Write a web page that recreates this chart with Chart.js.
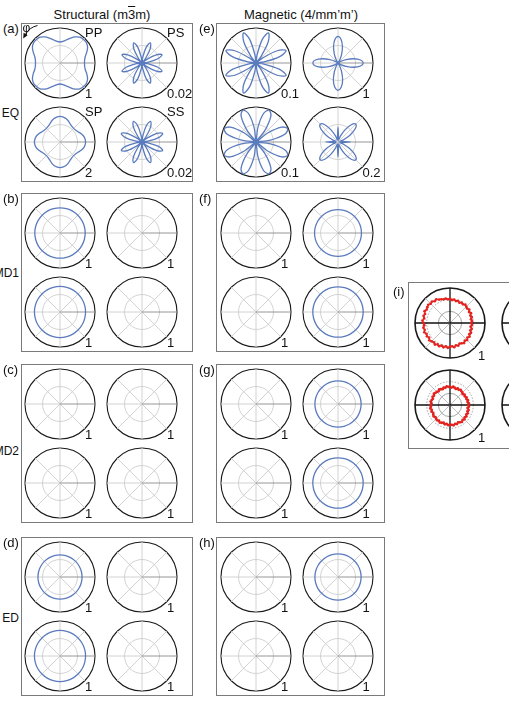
<!DOCTYPE html>
<html>
<head>
<meta charset="utf-8">
<script src="https://cdn.jsdelivr.net/npm/chart.js@4.4.1/dist/chart.umd.min.js"></script>
<style>
  body { margin: 0; background: #fff; }
  #fig { position: relative; width: 509px; height: 702px; overflow: hidden; background: #fff;
         font-family: "Liberation Sans", Arial, sans-serif; color: #111; }
  .box { position: absolute; border: 1.5px solid #7a7a7a; box-sizing: border-box; }
  .t { position: absolute; font-size: 13px; line-height: 13px; white-space: nowrap; }
  canvas { position: absolute; }
</style>
</head>
<body>
<div id="fig"></div>
<script>
// angle categories (screen angle, clockwise from the right-hand axis)
const ANGLES = [0, 7.5, 15, 22.5, 30, 37.5, 45, 52.5, 60, 67.5, 75, 82.5,
                90, 97.5, 105, 112.5, 120, 127.5, 135, 142.5, 150, 157.5, 165, 172.5,
                180, 187.5, 195, 202.5, 210, 217.5, 225, 232.5, 240, 247.5, 255, 262.5,
                270, 277.5, 285, 292.5, 300, 307.5, 315, 322.5, 330, 337.5, 345, 352.5];
const ANGLES24 = [0, 15, 30, 45, 60, 75, 90, 105, 120, 135, 150, 165,
                  180, 195, 210, 225, 240, 255, 270, 285, 300, 315, 330, 345];
const ANGLES_EXP = [0, 5, 10, 15, 20, 25, 30, 35, 40, 45, 50, 55,
                    60, 65, 70, 75, 80, 85, 90, 95, 100, 105, 110, 115,
                    120, 125, 130, 135, 140, 145, 150, 155, 160, 165, 170, 175,
                    180, 185, 190, 195, 200, 205, 210, 215, 220, 225, 230, 235,
                    240, 245, 250, 255, 260, 265, 270, 275, 280, 285, 290, 295,
                    300, 305, 310, 315, 320, 325, 330, 335, 340, 345, 350, 355];

// (a) structural, EQ
const eqStructPP = [0.70, 0.71, 0.75, 0.83, 0.91, 0.95, 0.95, 0.93, 0.86, 0.76, 0.68, 0.62,
                    0.60, 0.62, 0.68, 0.76, 0.86, 0.93, 0.95, 0.95, 0.91, 0.83, 0.75, 0.71,
                    0.70, 0.71, 0.75, 0.83, 0.91, 0.95, 0.95, 0.93, 0.86, 0.76, 0.68, 0.62,
                    0.60, 0.62, 0.68, 0.76, 0.86, 0.93, 0.95, 0.95, 0.91, 0.83, 0.75, 0.71];
const eqStructPS = [0, 0.16, 0.47, 0.62, 0.47, 0.16, 0, 0.16, 0.47, 0.62, 0.47, 0.16,
                    0, 0.16, 0.47, 0.62, 0.47, 0.16, 0, 0.16, 0.47, 0.62, 0.47, 0.16,
                    0, 0.16, 0.47, 0.62, 0.47, 0.16, 0, 0.16, 0.47, 0.62, 0.47, 0.16,
                    0, 0.16, 0.47, 0.62, 0.47, 0.16, 0, 0.16, 0.47, 0.62, 0.47, 0.16];
const eqStructSP = [0.73, 0.72, 0.69, 0.64, 0.59, 0.56, 0.55, 0.56, 0.59, 0.64, 0.69, 0.72,
                    0.73, 0.72, 0.69, 0.64, 0.59, 0.56, 0.55, 0.56, 0.59, 0.64, 0.69, 0.72,
                    0.73, 0.72, 0.69, 0.64, 0.59, 0.56, 0.55, 0.56, 0.59, 0.64, 0.69, 0.72,
                    0.73, 0.72, 0.69, 0.64, 0.59, 0.56, 0.55, 0.56, 0.59, 0.64, 0.69, 0.72];
const eqStructSS = [0, 0.17, 0.49, 0.64, 0.49, 0.17, 0, 0.17, 0.49, 0.64, 0.49, 0.17,
                    0, 0.17, 0.49, 0.64, 0.49, 0.17, 0, 0.17, 0.49, 0.64, 0.49, 0.17,
                    0, 0.17, 0.49, 0.64, 0.49, 0.17, 0, 0.17, 0.49, 0.64, 0.49, 0.17,
                    0, 0.17, 0.49, 0.64, 0.49, 0.17, 0, 0.17, 0.49, 0.64, 0.49, 0.17];

// (e) magnetic, EQ
const eqMagTL = [0, 0.23, 0.70, 0.93, 0.70, 0.23, 0, 0.23, 0.70, 0.93, 0.70, 0.23,
                 0, 0.23, 0.70, 0.93, 0.70, 0.23, 0, 0.23, 0.70, 0.93, 0.70, 0.23,
                 0, 0.23, 0.70, 0.93, 0.70, 0.23, 0, 0.23, 0.70, 0.93, 0.70, 0.23,
                 0, 0.23, 0.70, 0.93, 0.70, 0.23, 0, 0.23, 0.70, 0.93, 0.70, 0.23];
const eqMagTR = [0.72, 0.65, 0.47, 0.25, 0.09, 0.01, 0, 0.02, 0.10, 0.27, 0.51, 0.70,
                 0.78, 0.70, 0.51, 0.27, 0.10, 0.02, 0, 0.01, 0.09, 0.25, 0.47, 0.65,
                 0.72, 0.65, 0.47, 0.25, 0.09, 0.01, 0, 0.02, 0.10, 0.27, 0.49, 0.68,
                 0.76, 0.68, 0.49, 0.27, 0.10, 0.02, 0, 0.01, 0.09, 0.25, 0.47, 0.65];
const eqMagBL = [0, 0.42, 0.85, 0.98, 0.85, 0.42, 0, 0.42, 0.85, 0.98, 0.85, 0.42,
                 0, 0.42, 0.85, 0.98, 0.85, 0.42, 0, 0.42, 0.85, 0.98, 0.85, 0.42,
                 0, 0.42, 0.85, 0.98, 0.85, 0.42, 0, 0.42, 0.85, 0.98, 0.85, 0.42,
                 0, 0.42, 0.85, 0.98, 0.85, 0.42, 0, 0.42, 0.85, 0.98, 0.85, 0.42];
const eqMagBR = [0.35, 0.10, 0.06, 0.18, 0.40, 0.62, 0.72, 0.62, 0.40, 0.18, 0.06, 0.12,
                 0.43, 0.12, 0.06, 0.18, 0.40, 0.62, 0.72, 0.62, 0.40, 0.18, 0.06, 0.10,
                 0.35, 0.10, 0.06, 0.18, 0.40, 0.62, 0.72, 0.62, 0.40, 0.18, 0.06, 0.12,
                 0.43, 0.12, 0.06, 0.18, 0.40, 0.62, 0.72, 0.62, 0.40, 0.18, 0.06, 0.10];

// isotropic rings (MD1, MD2, ED)
const md1StructTL = [0.72, 0.72, 0.72, 0.72, 0.72, 0.72, 0.72, 0.72, 0.72, 0.72, 0.72, 0.72,
                     0.72, 0.72, 0.72, 0.72, 0.72, 0.72, 0.72, 0.72, 0.72, 0.72, 0.72, 0.72];
const md1StructBL = [0.73, 0.73, 0.73, 0.73, 0.73, 0.73, 0.73, 0.73, 0.73, 0.73, 0.73, 0.73,
                     0.73, 0.73, 0.73, 0.73, 0.73, 0.73, 0.73, 0.73, 0.73, 0.73, 0.73, 0.73];
const md1MagTR = [0.67, 0.67, 0.67, 0.67, 0.67, 0.67, 0.67, 0.67, 0.67, 0.67, 0.67, 0.67,
                  0.67, 0.67, 0.67, 0.67, 0.67, 0.67, 0.67, 0.67, 0.67, 0.67, 0.67, 0.67];
const md1MagBR = [0.72, 0.72, 0.72, 0.72, 0.72, 0.72, 0.72, 0.72, 0.72, 0.72, 0.72, 0.72,
                  0.72, 0.72, 0.72, 0.72, 0.72, 0.72, 0.72, 0.72, 0.72, 0.72, 0.72, 0.72];
const md2MagTR = [0.66, 0.66, 0.66, 0.66, 0.66, 0.66, 0.66, 0.66, 0.66, 0.66, 0.66, 0.66,
                  0.66, 0.66, 0.66, 0.66, 0.66, 0.66, 0.66, 0.66, 0.66, 0.66, 0.66, 0.66];
const md2MagBR = [0.72, 0.72, 0.72, 0.72, 0.72, 0.72, 0.72, 0.72, 0.72, 0.72, 0.72, 0.72,
                  0.72, 0.72, 0.72, 0.72, 0.72, 0.72, 0.72, 0.72, 0.72, 0.72, 0.72, 0.72];
const edStructTL = [0.63, 0.63, 0.63, 0.63, 0.63, 0.63, 0.63, 0.63, 0.63, 0.63, 0.63, 0.63,
                    0.63, 0.63, 0.63, 0.63, 0.63, 0.63, 0.63, 0.63, 0.63, 0.63, 0.63, 0.63];
const edStructBL = [0.73, 0.73, 0.73, 0.73, 0.73, 0.73, 0.73, 0.73, 0.73, 0.73, 0.73, 0.73,
                    0.73, 0.73, 0.73, 0.73, 0.73, 0.73, 0.73, 0.73, 0.73, 0.73, 0.73, 0.73];
const edMagTR = [0.66, 0.66, 0.66, 0.66, 0.66, 0.66, 0.66, 0.66, 0.66, 0.66, 0.66, 0.66,
                 0.66, 0.66, 0.66, 0.66, 0.66, 0.66, 0.66, 0.66, 0.66, 0.66, 0.66, 0.66];

// (i) measured
const expTop = [0.61, 0.63, 0.60, 0.64, 0.62, 0.66, 0.64, 0.68, 0.65, 0.69, 0.66, 0.70,
                0.67, 0.65, 0.69, 0.66, 0.70, 0.67, 0.68, 0.71, 0.68, 0.72, 0.69, 0.73,
                0.71, 0.75, 0.72, 0.74, 0.77, 0.73, 0.76, 0.74, 0.78, 0.75, 0.77, 0.74,
                0.76, 0.79, 0.75, 0.78, 0.76, 0.80, 0.77, 0.79, 0.81, 0.78, 0.80, 0.76,
                0.78, 0.74, 0.72, 0.70, 0.71, 0.68, 0.69, 0.66, 0.68, 0.65, 0.67, 0.64,
                0.67, 0.65, 0.68, 0.66, 0.64, 0.67, 0.63, 0.66, 0.62, 0.64, 0.61, 0.63];
const expBottom = [0.52, 0.54, 0.51, 0.55, 0.53, 0.56, 0.54, 0.57, 0.55, 0.58, 0.56, 0.59,
                   0.57, 0.55, 0.58, 0.56, 0.59, 0.57, 0.56, 0.58, 0.55, 0.57, 0.54, 0.56,
                   0.58, 0.55, 0.57, 0.56, 0.54, 0.57, 0.55, 0.53, 0.56, 0.54, 0.57, 0.55,
                   0.55, 0.53, 0.56, 0.54, 0.52, 0.55, 0.53, 0.56, 0.54, 0.53, 0.51, 0.54,
                   0.52, 0.50, 0.53, 0.51, 0.54, 0.52, 0.52, 0.50, 0.53, 0.51, 0.49, 0.52,
                   0.50, 0.53, 0.51, 0.50, 0.48, 0.51, 0.49, 0.52, 0.50, 0.53, 0.51, 0.54];

const BLUE = '#5b7bbf';
const RED = '#e3231f';
const fig = document.getElementById('fig');

function addText(html, x, baseline, align, size) {
    const el = document.createElement('div');
    el.className = 't';
    el.innerHTML = html;
    if (size) { el.style.fontSize = size + 'px'; el.style.lineHeight = size + 'px'; }
    el.style.top = (baseline - (size ? size * 0.85 : 11)) + 'px';
    if (align === 'right') el.style.right = (509 - x) + 'px';
    else if (align === 'center') { el.style.left = x + 'px'; el.style.transform = 'translateX(-50%)'; }
    else el.style.left = x + 'px';
    fig.appendChild(el);
}

function addBox(x, y, w, h) {
    const el = document.createElement('div');
    el.className = 'box';
    el.style.left = x + 'px'; el.style.top = y + 'px';
    el.style.width = w + 'px'; el.style.height = h + 'px';
    fig.appendChild(el);
}

function polar(cx, cy, labels, series, exp) {
    const cv = document.createElement('canvas');
    cv.width = 80; cv.height = 80;
    cv.style.width = '80px'; cv.style.height = '80px';
    fig.appendChild(cv);
    const step = labels.length / 8;
    const datasets = [];
    if (series) {
        datasets.push({
            data: series,
            fill: false,
            backgroundColor: 'transparent',
            borderColor: exp ? RED : BLUE,
            borderWidth: exp ? 1 : 1.3,
            tension: exp ? 0 : 0.35,
            pointRadius: exp ? 1.4 : 0,
            pointBackgroundColor: RED,
            pointBorderWidth: 0
        });
    }
    const rTicks = exp ? [0, 1 / 3, 2 / 3, 1] : [0, 0.5, 1];
    const chart = new Chart(cv, {
        type: 'radar',
        data: { labels: labels, datasets: datasets },
        options: {
            responsive: false,
            animation: false,
            devicePixelRatio: 1,
            events: [],
            layout: { padding: 5 },
            plugins: { legend: { display: false }, tooltip: { enabled: false } },
            scales: {
                r: {
                    min: 0, max: 1,
                    startAngle: 90,
                    afterBuildTicks: function (axis) {
                        axis.ticks = rTicks.map(v => ({ value: v }));
                    },
                    ticks: { display: false },
                    pointLabels: { display: false },
                    grid: {
                        circular: true,
                        color: ctx => ctx.tick.value > 0.99 ? '#1a1a1a' : (exp ? '#9a9a9a' : '#cdcdcd'),
                        lineWidth: ctx => ctx.tick.value > 0.99 ? (exp ? 1.6 : 1.1) : 0.9
                    },
                    border: {
                        dash: ctx => (exp && ctx.tick && ctx.tick.value > 0.5 && ctx.tick.value < 0.99) ? [1.5, 1.5] : []
                    },
                    angleLines: {
                        display: true,
                        color: ctx => {
                            if (exp) return (ctx.index % (2 * step) === 0) ? '#111' : '#bcbcbc';
                            return ctx.index === 0 ? '#8a8a8a' : '#cdcdcd';
                        },
                        lineWidth: ctx => ctx.index % step === 0 ? (exp && ctx.index % (2 * step) === 0 ? 1.3 : 0.9) : 0
                    }
                }
            }
        }
    });
    const s = chart.scales.r;
    cv.style.left = (cx - s.xCenter) + 'px';
    cv.style.top = (cy - s.yCenter) + 'px';
}

// layout
const LEFT_BOX = 21, LEFT_W = 172, RIGHT_BOX = 216, RIGHT_W = 169;
const ROW_TOPS = [23, 193, 364, 537];
const BOX_H = 159;
const COL_CX = [[60, 142], [256, 337.5]];

const panels = [
    { tag: '(a)', col: 0, row: 0, plots: [
        { d: eqStructPP, s: '1', p: 'PP' }, { d: eqStructPS, s: '0.02', p: 'PS' },
        { d: eqStructSP, s: '2', p: 'SP' }, { d: eqStructSS, s: '0.02', p: 'SS' }] },
    { tag: '(e)', col: 1, row: 0, plots: [
        { d: eqMagTL, s: '0.1' }, { d: eqMagTR, s: '1' },
        { d: eqMagBL, s: '0.1' }, { d: eqMagBR, s: '0.2' }] },
    { tag: '(b)', col: 0, row: 1, plots: [
        { d: md1StructTL, s: '1' }, { d: null, s: '1' }, { d: md1StructBL, s: '1' }, { d: null, s: '1' }] },
    { tag: '(f)', col: 1, row: 1, plots: [
        { d: null, s: '1' }, { d: md1MagTR, s: '1' }, { d: null, s: '1' }, { d: md1MagBR, s: '1' }] },
    { tag: '(c)', col: 0, row: 2, plots: [
        { d: null, s: '1' }, { d: null, s: '1' }, { d: null, s: '1' }, { d: null, s: '1' }] },
    { tag: '(g)', col: 1, row: 2, plots: [
        { d: null, s: '1' }, { d: md2MagTR, s: '1' }, { d: null, s: '1' }, { d: md2MagBR, s: '1' }] },
    { tag: '(d)', col: 0, row: 3, plots: [
        { d: edStructTL, s: '1' }, { d: null, s: '1' }, { d: edStructBL, s: '1' }, { d: null, s: '1' }] },
    { tag: '(h)', col: 1, row: 3, plots: [
        { d: null, s: '1' }, { d: edMagTR, s: '1' }, { d: null, s: '1' }, { d: null, s: '1' }] }
];

addText('Structural (m<span style="text-decoration:overline">3</span>m)', 102, 19, 'center');
addText('Magnetic (4/mm\u2019m\u2019)', 301, 19, 'center');

['EQ', 'MD1', 'MD2', 'ED'].forEach((lab, i) => {
    addText(lab, 19, [117.5, 277, 455, 622][i], 'right', 12);
});

panels.forEach(pn => {
    const bx = pn.col === 0 ? LEFT_BOX : RIGHT_BOX;
    const bw = pn.col === 0 ? LEFT_W : RIGHT_W;
    const top = ROW_TOPS[pn.row];
    addBox(bx, top, bw, BOX_H);
    addText(pn.tag, pn.col === 0 ? 3 : 199, top + 10);
    pn.plots.forEach((pl, k) => {
        const cx = COL_CX[pn.col][k % 2];
        const cy = top + (k < 2 ? 40 : 119);
        const labels = pl.d && pl.d.length === 24 ? ANGLES24 : ANGLES;
        polar(cx, cy, labels, pl.d, false);
        addText(pl.s, cx + 25, cy + 35);
        if (pl.p) addText(pl.p, cx + 25, cy - 26);
    });
});

// (i) measured data
addBox(408, 282, 200, 167);
addText('(i)', 393, 296);
polar(450, 323, ANGLES_EXP, expTop, true);
polar(450, 405, ANGLES_EXP, expBottom, true);
polar(537, 323, ANGLES_EXP, null, true);
polar(537, 405, ANGLES_EXP, null, true);
addText('1', 478, 360);
addText('1', 478, 442);

// phi rotation marker in (a)
const svgNS = 'http://www.w3.org/2000/svg';
const svg = document.createElementNS(svgNS, 'svg');
svg.setAttribute('width', '509'); svg.setAttribute('height', '702');
svg.style.position = 'absolute'; svg.style.left = '0'; svg.style.top = '0';
svg.innerHTML = '<path d="M37.5,25.5 Q29,27.5 25.5,34.5" stroke="#111" stroke-width="1" fill="none"/>' +
                '<path d="M23.2,38.5 L23.6,32.8 L27.6,35.2 Z" fill="#111"/>';
fig.appendChild(svg);
addText('\u03c6', 22.5, 32, null, 12);
</script>
</body>
</html>
